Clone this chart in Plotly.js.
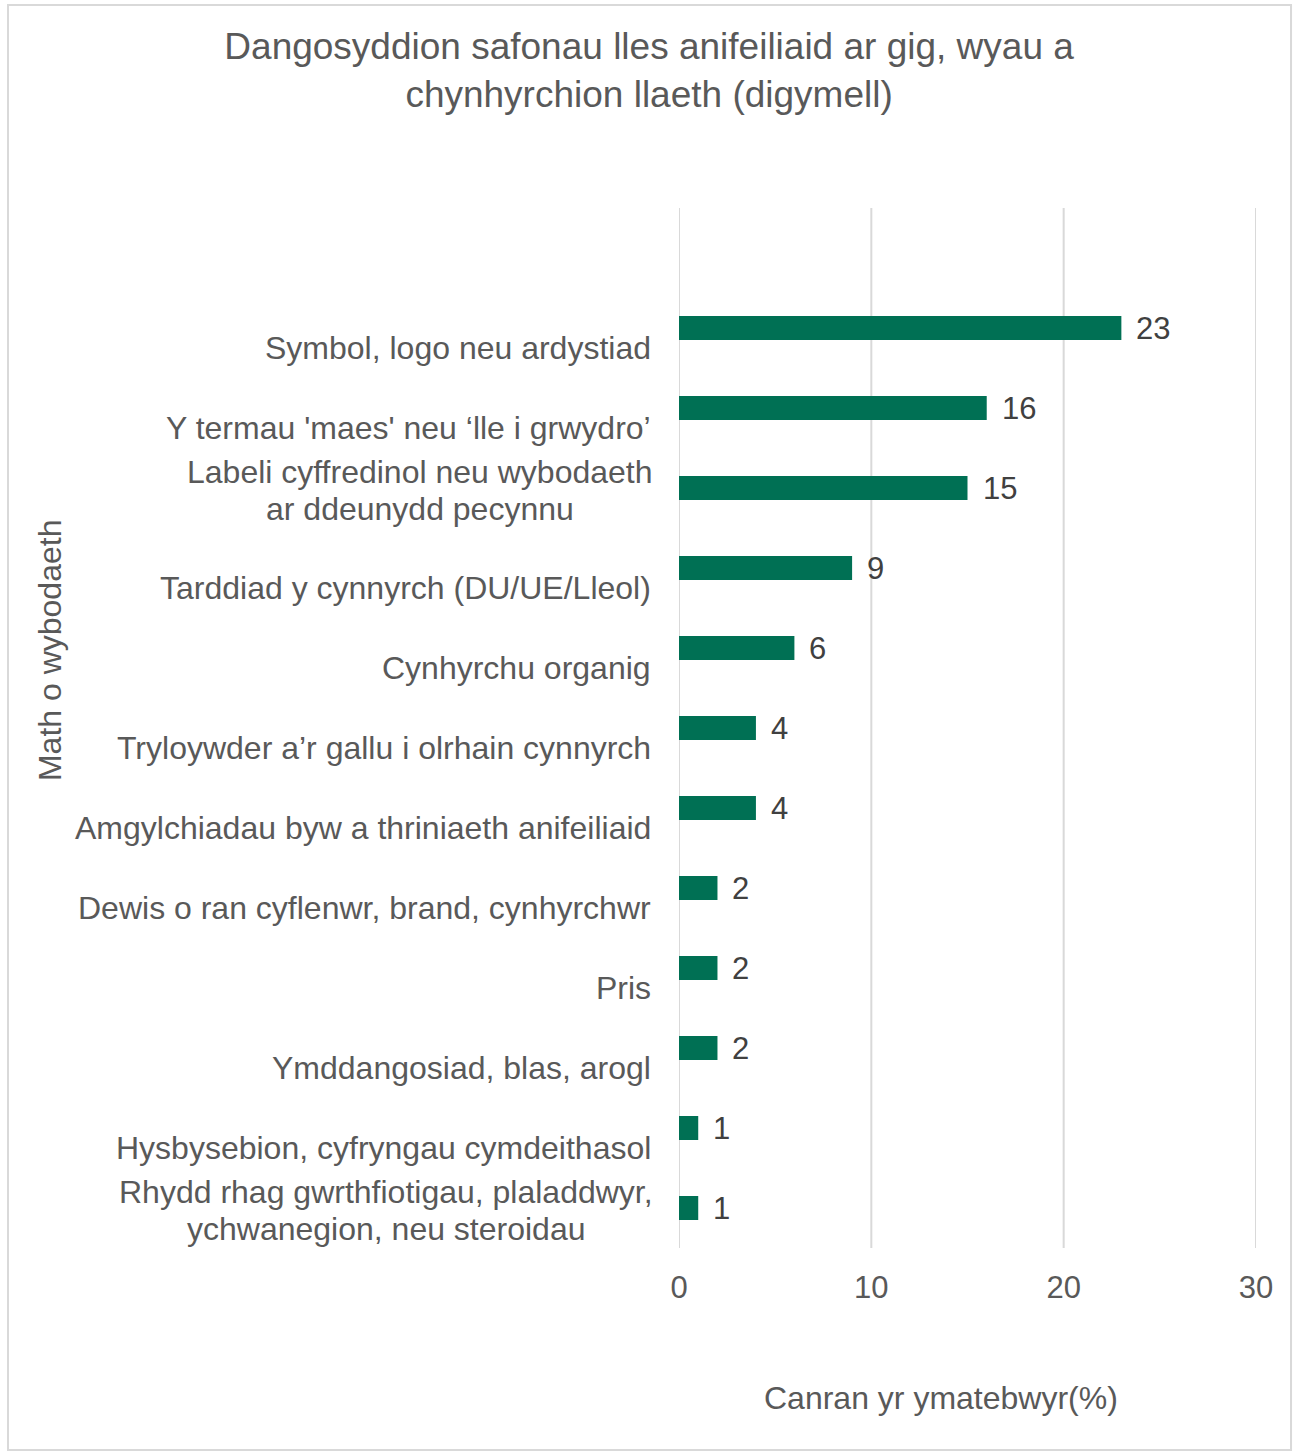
<!DOCTYPE html>
<html>
<head>
<meta charset="utf-8">
<script src="https://cdn.plot.ly/plotly-3.0.1.min.js"></script>
<style>
html, body { margin: 0; padding: 0; background: #ffffff; }
#chart { width: 1293px; height: 1452px; }
</style>
</head>
<body>
<div id="chart"></div>
<script>
var categories = [
  "Symbol, logo neu ardystiad",
  "Y termau 'maes' neu \u2018lle i grwydro\u2019",
  "Labeli cyffredinol neu wybodaeth<br>ar ddeunydd pecynnu",
  "Tarddiad y cynnyrch (DU/UE/Lleol)",
  "Cynhyrchu organig",
  "Tryloywder a\u2019r gallu i olrhain cynnyrch",
  "Amgylchiadau byw a thriniaeth anifeiliaid",
  "Dewis o ran cyflenwr, brand, cynhyrchwr",
  "Pris",
  "Ymddangosiad, blas, arogl",
  "Hysbysebion, cyfryngau cymdeithasol",
  "Rhydd rhag gwrthfiotigau, plaladdwyr,<br>ychwanegion, neu steroidau"
];
var values = [23, 16, 15, 9, 6, 4, 4, 2, 2, 2, 1, 1];
var xTickValues = [0, 10, 20, 30];
var xTickLabels = ["0", "10", "20", "30"];

var chartTitle = "Dangosyddion safonau lles anifeiliaid ar gig, wyau a<br>chynhyrchion llaeth (digymell)";
var xTitle = "Canran yr ymatebwyr(%)";
var yTitle = "Math o wybodaeth";

var FONT = "Liberation Sans, Arial, sans-serif";
var GREY = "#595959";
var LABEL_SIZE = 32;

var measureCtx = document.createElement("canvas").getContext("2d");
measureCtx.font = LABEL_SIZE + "px 'Liberation Sans', Arial, sans-serif";
function textWidth(s) { return measureCtx.measureText(s).width; }

var trace = {
  type: "bar",
  orientation: "h",
  x: values,
  y: categories,
  width: 0.3,
  marker: { color: "#007054" },
  hoverinfo: "skip"
};

var annotations = [];
categories.forEach(function (c, i) {
  var lines = c.split("<br>");
  if (lines.length === 1) {
    annotations.push({
      xref: "paper", yref: "y", x: 0, y: c,
      xanchor: "right", yanchor: "middle",
      xshift: -26, yshift: -20,
      text: c, showarrow: false,
      font: { family: FONT, size: LABEL_SIZE, color: GREY }
    });
  } else {
    var widths = lines.map(textWidth);
    var maxW = Math.max.apply(null, widths);
    var centerShift = -26 - maxW / 2;
    lines.forEach(function (ln, k) {
      annotations.push({
        xref: "paper", yref: "y", x: 0, y: c,
        xanchor: "center", yanchor: "middle",
        xshift: centerShift, yshift: 16 - 37 * k,
        text: ln, showarrow: false,
        font: { family: FONT, size: LABEL_SIZE, color: GREY }
      });
    });
  }
  annotations.push({
    xref: "x", yref: "y", x: values[i], y: c,
    xanchor: "left", yanchor: "middle",
    xshift: 13, yshift: 0,
    text: String(values[i]), showarrow: false,
    font: { family: FONT, size: 31, color: "#404040" }
  });
});
annotations.push({
  xref: "paper", yref: "paper", x: -1.09, y: 0.575,
  xanchor: "center", yanchor: "middle", textangle: -90,
  text: yTitle, showarrow: false,
  font: { family: FONT, size: 32, color: GREY }
});
annotations.push({
  xref: "paper", yref: "paper", x: 0.454, y: -0.144,
  xanchor: "center", yanchor: "middle",
  text: xTitle, showarrow: false,
  font: { family: FONT, size: 32, color: GREY }
});

var shapes = [{
  type: "rect", xref: "paper", yref: "paper",
  x0: -1.1629, x1: 1.0607, y0: -0.1942, y1: 1.1952,
  line: { color: "#d9d9d9", width: 2 },
  fillcolor: "rgba(0,0,0,0)", layer: "below"
}];
xTickValues.forEach(function (v) {
  shapes.push({
    type: "line", xref: "x", yref: "paper",
    x0: v, x1: v, y0: 0, y1: 1,
    line: { color: "#d9d9d9", width: 2 }, layer: "below"
  });
});

var layout = {
  width: 1293, height: 1452,
  margin: { l: 679, r: 37, t: 208, b: 204, pad: 0 },
  paper_bgcolor: "#ffffff",
  plot_bgcolor: "#ffffff",
  showlegend: false,
  title: {
    text: chartTitle,
    x: 0.502, xanchor: "center",
    y: 0.9595, yanchor: "middle",
    font: { family: FONT, size: 37, color: GREY }
  },
  xaxis: {
    range: [0, 30],
    tickvals: xTickValues,
    ticktext: xTickLabels,
    showgrid: false,
    zeroline: false, showline: false, ticks: "",
    ticklabelstandoff: 18,
    tickfont: { family: FONT, size: 31, color: GREY },
    fixedrange: true
  },
  yaxis: {
    type: "category",
    categoryorder: "array",
    categoryarray: categories,
    range: [11.5, -1.5],
    showticklabels: false,
    showgrid: false, zeroline: false, showline: false, ticks: "",
    fixedrange: true
  },
  annotations: annotations,
  shapes: shapes
};

Plotly.newPlot("chart", [trace], layout, { displayModeBar: false, staticPlot: true });
</script>
</body>
</html>
